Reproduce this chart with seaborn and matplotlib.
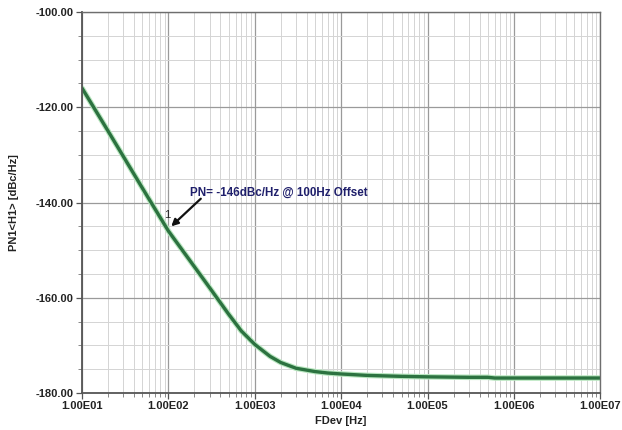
import matplotlib
matplotlib.use("Agg")
import matplotlib.pyplot as plt
import matplotlib.patheffects as pe
from matplotlib.ticker import FixedLocator, LogLocator, FuncFormatter, NullFormatter
import seaborn as sns
import pandas as pd
import numpy as np

freq_hz = [10, 20, 50, 100, 200, 300, 500, 700, 1000, 1500, 2000, 3000, 5000, 7000,
           1e4, 2e4, 5e4, 1e5, 3e5, 5e5, 6e5, 1e6, 3e6, 1e7]
pn_dbc = [-116.0, -125.0, -137.0, -146.0, -153.5, -157.9, -163.5, -167.0, -169.8, -172.3,
          -173.6, -174.8, -175.5, -175.8, -176.0, -176.3, -176.5, -176.6, -176.7, -176.7,
          -176.85, -176.85, -176.85, -176.85]
y_ticks = [-180, -160, -140, -120, -100]
x_ticks = [1e1, 1e2, 1e3, 1e4, 1e5, 1e6, 1e7]
x_tick_labels = ["1.00E01", "1.00E02", "1.00E03", "1.00E04", "1.00E05", "1.00E06", "1.00E07"]
marker_freq = 100
marker_val = -146
annotation = "PN= -146dBc/Hz @ 100Hz Offset"

sns.set_style("white")
plt.rcParams['font.family'] = ['Liberation Sans', 'DejaVu Sans']

df = pd.DataFrame({"f": freq_hz, "pn": pn_dbc})

fig = plt.figure(figsize=(6.22, 4.30), dpi=100)
ax = fig.add_axes([0.132, 0.086, 0.833, 0.886])

sns.lineplot(data=df, x="f", y="pn", ax=ax, color="#2c7240", linewidth=2.4,
             path_effects=[pe.Stroke(linewidth=4.0, foreground="#b8e6bf"), pe.Normal()])

ax.set_xscale("log")
ax.set_xlim(1e1, 1e7)
ax.set_ylim(-180, -100)

ax.xaxis.set_major_locator(FixedLocator(x_ticks))
ax.xaxis.set_major_formatter(FuncFormatter(lambda v, p: x_tick_labels[x_ticks.index(v)] if v in x_ticks else ""))
ax.xaxis.set_minor_locator(LogLocator(base=10, subs=np.arange(2, 10), numticks=100))
ax.xaxis.set_minor_formatter(NullFormatter())

ax.yaxis.set_major_locator(FixedLocator(y_ticks))
ax.yaxis.set_major_formatter(FuncFormatter(lambda v, p: f"{v:.2f}"))
ax.yaxis.set_minor_locator(FixedLocator(np.arange(-180, -99, 5)))

ax.grid(which="major", color="#9a9a9a", linewidth=0.9)
ax.grid(which="minor", color="#d4d4d4", linewidth=0.7)
ax.set_axisbelow(True)

for s in ax.spines.values():
    s.set_color("#6e6e6e")
    s.set_linewidth(1.0)
ax.spines["left"].set_color("#555555")
ax.spines["bottom"].set_color("#555555")
ax.spines["left"].set_linewidth(1.3)
ax.spines["bottom"].set_linewidth(1.3)

ax.tick_params(axis="both", which="major", length=4, width=0.9, color="#555555",
               labelsize=8, pad=2)
ax.tick_params(axis="both", which="minor", length=3, width=0.7, color="#888888")
ax.tick_params(axis="x", which="both", bottom=True, top=False)
ax.tick_params(axis="y", which="both", left=True, right=False)
for lab in ax.get_xticklabels() + ax.get_yticklabels():
    lab.set_fontweight("bold")
    lab.set_color("#222222")

ax.set_xlabel("FDev [Hz]", fontsize=8, fontweight="bold", color="#222222", labelpad=3)
ax.set_ylabel("PN1<H1> [dBc/Hz]", fontsize=8, fontweight="bold", color="#222222", labelpad=12)

ax.annotate("", xy=(marker_freq * 1.02, marker_val + 0.6), xytext=(250, -138.8),
            arrowprops=dict(arrowstyle="-|>", color="#111111", lw=1.6, mutation_scale=10))
ax.text(marker_freq * 0.98, -142.6, "1", fontsize=8, color="#222222",
        ha="center", va="center")
ax.text(178, -137.9, annotation, fontsize=8.4, fontweight="bold", color="#1f1f6b",
        ha="left", va="center")

fig.savefig("out.png", dpi=100)
